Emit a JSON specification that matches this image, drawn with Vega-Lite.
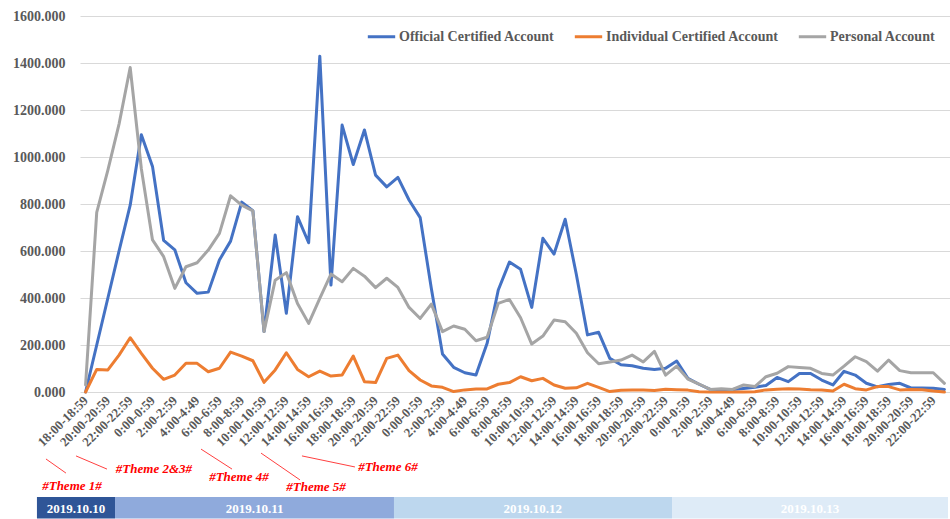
{
  "$schema": "https://vega.github.io/schema/vega-lite/v6.json",
  "width": 870,
  "height": 376,
  "padding": {"left": 12, "top": 9, "right": 0, "bottom": 0},
  "background": "white",
  "config": {"view": {"stroke": null}, "font": "Liberation Serif"},
  "datasets": {
    "series": [
      {"t": "10.10 18:00-18:59", "Official Certified Account": 0, "Individual Certified Account": 0, "Personal Account": 30},
      {"t": "10.10 19:00-19:59", "Official Certified Account": 200, "Individual Certified Account": 96, "Personal Account": 764},
      {"t": "10.10 20:00-20:59", "Official Certified Account": 400, "Individual Certified Account": 94, "Personal Account": 944},
      {"t": "10.10 21:00-21:59", "Official Certified Account": 600, "Individual Certified Account": 157, "Personal Account": 1140},
      {"t": "10.10 22:00-22:59", "Official Certified Account": 795, "Individual Certified Account": 231, "Personal Account": 1381},
      {"t": "10.10 23:00-23:59", "Official Certified Account": 1095, "Individual Certified Account": 164, "Personal Account": 950},
      {"t": "10.11 0:00-0:59", "Official Certified Account": 960, "Individual Certified Account": 101, "Personal Account": 647},
      {"t": "10.11 1:00-1:59", "Official Certified Account": 645, "Individual Certified Account": 54, "Personal Account": 576},
      {"t": "10.11 2:00-2:59", "Official Certified Account": 605, "Individual Certified Account": 72, "Personal Account": 441},
      {"t": "10.11 3:00-3:59", "Official Certified Account": 465, "Individual Certified Account": 122, "Personal Account": 533},
      {"t": "10.11 4:00-4:49", "Official Certified Account": 420, "Individual Certified Account": 122, "Personal Account": 550},
      {"t": "10.11 5:00-5:59", "Official Certified Account": 425, "Individual Certified Account": 86, "Personal Account": 604},
      {"t": "10.11 6:00-6:59", "Official Certified Account": 562, "Individual Certified Account": 101, "Personal Account": 675},
      {"t": "10.11 7:00-7:59", "Official Certified Account": 642, "Individual Certified Account": 170, "Personal Account": 835},
      {"t": "10.11 8:00-8:59", "Official Certified Account": 808, "Individual Certified Account": 153, "Personal Account": 795},
      {"t": "10.11 9:00-9:59", "Official Certified Account": 772, "Individual Certified Account": 133, "Personal Account": 771},
      {"t": "10.11 10:00-10:59", "Official Certified Account": 257, "Individual Certified Account": 41, "Personal Account": 257},
      {"t": "10.11 11:00-11:59", "Official Certified Account": 668, "Individual Certified Account": 94, "Personal Account": 476},
      {"t": "10.11 12:00-12:59", "Official Certified Account": 335, "Individual Certified Account": 167, "Personal Account": 508},
      {"t": "10.11 13:00-13:59", "Official Certified Account": 746, "Individual Certified Account": 96, "Personal Account": 377},
      {"t": "10.11 14:00-14:59", "Official Certified Account": 635, "Individual Certified Account": 65, "Personal Account": 292},
      {"t": "10.11 15:00-15:59", "Official Certified Account": 1429, "Individual Certified Account": 89, "Personal Account": 398},
      {"t": "10.11 16:00-16:59", "Official Certified Account": 455, "Individual Certified Account": 68, "Personal Account": 502},
      {"t": "10.11 17:00-17:59", "Official Certified Account": 1136, "Individual Certified Account": 72, "Personal Account": 469},
      {"t": "10.11 18:00-18:59", "Official Certified Account": 968, "Individual Certified Account": 153, "Personal Account": 526},
      {"t": "10.11 19:00-19:59", "Official Certified Account": 1115, "Individual Certified Account": 44, "Personal Account": 493},
      {"t": "10.11 20:00-20:59", "Official Certified Account": 923, "Individual Certified Account": 40, "Personal Account": 444},
      {"t": "10.11 21:00-21:59", "Official Certified Account": 873, "Individual Certified Account": 143, "Personal Account": 484},
      {"t": "10.11 22:00-22:59", "Official Certified Account": 913, "Individual Certified Account": 157, "Personal Account": 445},
      {"t": "10.11 23:00-23:59", "Official Certified Account": 817, "Individual Certified Account": 91, "Personal Account": 360},
      {"t": "10.12 0:00-0:59", "Official Certified Account": 742, "Individual Certified Account": 51, "Personal Account": 313},
      {"t": "10.12 1:00-1:59", "Official Certified Account": 440, "Individual Certified Account": 26, "Personal Account": 374},
      {"t": "10.12 2:00-2:59", "Official Certified Account": 162, "Individual Certified Account": 20, "Personal Account": 257},
      {"t": "10.12 3:00-3:59", "Official Certified Account": 105, "Individual Certified Account": 2, "Personal Account": 281},
      {"t": "10.12 4:00-4:49", "Official Certified Account": 82, "Individual Certified Account": 9, "Personal Account": 267},
      {"t": "10.12 5:00-5:59", "Official Certified Account": 72, "Individual Certified Account": 13, "Personal Account": 218},
      {"t": "10.12 6:00-6:59", "Official Certified Account": 207, "Individual Certified Account": 13, "Personal Account": 233},
      {"t": "10.12 7:00-7:59", "Official Certified Account": 434, "Individual Certified Account": 33, "Personal Account": 377},
      {"t": "10.12 8:00-8:59", "Official Certified Account": 553, "Individual Certified Account": 40, "Personal Account": 394},
      {"t": "10.12 9:00-9:59", "Official Certified Account": 522, "Individual Certified Account": 65, "Personal Account": 316},
      {"t": "10.12 10:00-10:59", "Official Certified Account": 360, "Individual Certified Account": 48, "Personal Account": 204},
      {"t": "10.12 11:00-11:59", "Official Certified Account": 654, "Individual Certified Account": 58, "Personal Account": 238},
      {"t": "10.12 12:00-12:59", "Official Certified Account": 587, "Individual Certified Account": 30, "Personal Account": 306},
      {"t": "10.12 13:00-13:59", "Official Certified Account": 735, "Individual Certified Account": 16, "Personal Account": 299},
      {"t": "10.12 14:00-14:59", "Official Certified Account": 500, "Individual Certified Account": 18, "Personal Account": 250},
      {"t": "10.12 15:00-15:59", "Official Certified Account": 243, "Individual Certified Account": 37, "Personal Account": 167},
      {"t": "10.12 16:00-16:59", "Official Certified Account": 254, "Individual Certified Account": 20, "Personal Account": 120},
      {"t": "10.12 17:00-17:59", "Official Certified Account": 143, "Individual Certified Account": 2, "Personal Account": 128},
      {"t": "10.12 18:00-18:59", "Official Certified Account": 116, "Individual Certified Account": 7, "Personal Account": 136},
      {"t": "10.12 19:00-19:59", "Official Certified Account": 112, "Individual Certified Account": 8, "Personal Account": 157},
      {"t": "10.12 20:00-20:59", "Official Certified Account": 101, "Individual Certified Account": 8, "Personal Account": 128},
      {"t": "10.12 21:00-21:59", "Official Certified Account": 96, "Individual Certified Account": 6, "Personal Account": 173},
      {"t": "10.12 22:00-22:59", "Official Certified Account": 101, "Individual Certified Account": 12, "Personal Account": 72},
      {"t": "10.12 23:00-23:59", "Official Certified Account": 132, "Individual Certified Account": 10, "Personal Account": 110},
      {"t": "10.13 0:00-0:59", "Official Certified Account": 58, "Individual Certified Account": 8, "Personal Account": 55},
      {"t": "10.13 1:00-1:59", "Official Certified Account": 33, "Individual Certified Account": 1, "Personal Account": 34},
      {"t": "10.13 2:00-2:59", "Official Certified Account": 11, "Individual Certified Account": 0, "Personal Account": 11},
      {"t": "10.13 3:00-3:59", "Official Certified Account": 9, "Individual Certified Account": 0, "Personal Account": 14},
      {"t": "10.13 4:00-4:49", "Official Certified Account": 11, "Individual Certified Account": 0, "Personal Account": 11},
      {"t": "10.13 5:00-5:59", "Official Certified Account": 15, "Individual Certified Account": 0, "Personal Account": 30},
      {"t": "10.13 6:00-6:59", "Official Certified Account": 20, "Individual Certified Account": 1, "Personal Account": 23},
      {"t": "10.13 7:00-7:59", "Official Certified Account": 28, "Individual Certified Account": 9, "Personal Account": 65},
      {"t": "10.13 8:00-8:59", "Official Certified Account": 62, "Individual Certified Account": 12, "Personal Account": 80},
      {"t": "10.13 9:00-9:59", "Official Certified Account": 44, "Individual Certified Account": 14, "Personal Account": 108},
      {"t": "10.13 10:00-10:59", "Official Certified Account": 79, "Individual Certified Account": 13, "Personal Account": 104},
      {"t": "10.13 11:00-11:59", "Official Certified Account": 79, "Individual Certified Account": 10, "Personal Account": 101},
      {"t": "10.13 12:00-12:59", "Official Certified Account": 51, "Individual Certified Account": 9, "Personal Account": 79},
      {"t": "10.13 13:00-13:59", "Official Certified Account": 30, "Individual Certified Account": 4, "Personal Account": 72},
      {"t": "10.13 14:00-14:59", "Official Certified Account": 88, "Individual Certified Account": 33, "Personal Account": 110},
      {"t": "10.13 15:00-15:59", "Official Certified Account": 72, "Individual Certified Account": 14, "Personal Account": 150},
      {"t": "10.13 16:00-16:59", "Official Certified Account": 37, "Individual Certified Account": 9, "Personal Account": 129},
      {"t": "10.13 17:00-17:59", "Official Certified Account": 22, "Individual Certified Account": 23, "Personal Account": 89},
      {"t": "10.13 18:00-18:59", "Official Certified Account": 32, "Individual Certified Account": 23, "Personal Account": 136},
      {"t": "10.13 19:00-19:59", "Official Certified Account": 37, "Individual Certified Account": 9, "Personal Account": 91},
      {"t": "10.13 20:00-20:59", "Official Certified Account": 17, "Individual Certified Account": 11, "Personal Account": 82},
      {"t": "10.13 21:00-21:59", "Official Certified Account": 17, "Individual Certified Account": 10, "Personal Account": 82},
      {"t": "10.13 22:00-22:59", "Official Certified Account": 16, "Individual Certified Account": 4, "Personal Account": 82},
      {"t": "10.13 23:00-23:59", "Official Certified Account": 11, "Individual Certified Account": 0, "Personal Account": 37}
    ],
    "notes": [
      {"note": "#Theme 1#", "ax": -1.22, "ay": -400},
      {"note": "#Theme 2&3#", "ax": 6.13, "ay": -328},
      {"note": "#Theme 4#", "ax": 13.75, "ay": -362},
      {"note": "#Theme 5#", "ax": 20.66, "ay": -404},
      {"note": "#Theme 6#", "ax": 27.11, "ay": -319}
    ],
    "pointers": [
      {"ax": -3.55, "ay": -285, "ax2": -1.76, "ay2": -345},
      {"ax": -0.86, "ay": -272, "ax2": 1.92, "ay2": -328},
      {"ax": 10.35, "ay": -243, "ax2": 13.13, "ay2": -328},
      {"ax": 15.73, "ay": -260, "ax2": 19.22, "ay2": -374},
      {"ax": 19.4, "ay": -272, "ax2": 24.15, "ay2": -319}
    ],
    "days": [
      {"day": "2019.10.10", "ax": -4.36, "ax2": 2.64, "am": -0.86, "ay": -447, "ay2": -538, "ym": -498},
      {"day": "2019.10.11", "ax": 2.64, "ax2": 27.65, "am": 15.15, "ay": -447, "ay2": -538, "ym": -498},
      {"day": "2019.10.12", "ax": 27.65, "ax2": 52.58, "am": 40.1, "ay": -447, "ay2": -538, "ym": -498},
      {"day": "2019.10.13", "ax": 52.58, "ax2": 77.32, "am": 64.95, "ay": -447, "ay2": -538, "ym": -498}
    ]
  },
  "layer": [
    {
      "data": {"name": "series"},
      "transform": [{"fold": ["Official Certified Account", "Individual Certified Account", "Personal Account"], "as": ["series", "value"]}],
      "mark": {"type": "line", "strokeWidth": 3, "strokeJoin": "round", "strokeCap": "round"},
      "encoding": {
        "x": {
          "field": "t", "type": "ordinal", "sort": null,
          "scale": {"type": "point", "padding": 0.5},
          "axis": {
            "title": null, "ticks": false, "domain": false, "grid": false,
            "labelAngle": -45, "labelAlign": "right", "labelBaseline": "middle",
            "labelPadding": 6, "labelOverlap": false,
            "labelFont": "Liberation Serif", "labelFontSize": 13, "labelFontWeight": "bold", "labelColor": "#595959",
            "labelExpr": "(toNumber(split(split(datum.value, ' ')[1], ':')[0]) % 2 == 0) ? split(datum.value, ' ')[1] : ''"
          }
        },
        "y": {
          "field": "value", "type": "quantitative",
          "scale": {"domain": [0, 1600], "nice": false},
          "axis": {
            "title": null, "values": [0, 200, 400, 600, 800, 1000, 1200, 1400, 1600], "format": ".3f",
            "ticks": false, "domain": false, "grid": true, "gridColor": "#D9D9D9", "gridWidth": 1,
            "labelPadding": 15, "labelFont": "Liberation Serif", "labelFontSize": 14, "labelFontWeight": "bold", "labelColor": "#595959"
          }
        },
        "color": {
          "field": "series", "type": "nominal",
          "scale": {"domain": ["Official Certified Account", "Individual Certified Account", "Personal Account"], "range": ["#4472C4", "#ED7D31", "#A5A5A5"]},
          "legend": {
            "title": null, "orient": "none", "direction": "horizontal", "legendX": 286, "legendY": 5,
            "symbolType": "stroke", "symbolStrokeWidth": 3, "symbolSize": 750, "columnPadding": 13, "labelOffset": 2, "labelLimit": 0,
            "labelFont": "Liberation Serif", "labelFontSize": 14, "labelFontWeight": "bold", "labelColor": "#595959"
          }
        }
      }
    },
    {
      "data": {"name": "pointers"},
      "mark": {"type": "rule", "color": "#FF4040", "strokeWidth": 1},
      "encoding": {
        "x": {"field": "ax", "type": "quantitative", "scale": {"domain": [-0.5, 77.5], "nice": false, "zero": false}, "axis": null},
        "x2": {"field": "ax2"},
        "y": {"field": "ay", "type": "quantitative", "scale": {"domain": [0, 1600], "nice": false, "zero": false}, "axis": null},
        "y2": {"field": "ay2"}
      }
    },
    {
      "data": {"name": "notes"},
      "mark": {"type": "text", "color": "#FF0000", "font": "Liberation Serif", "fontSize": 13, "fontWeight": "bold", "fontStyle": "italic", "align": "center", "baseline": "middle"},
      "encoding": {
        "x": {"field": "ax", "type": "quantitative", "scale": {"domain": [-0.5, 77.5], "nice": false, "zero": false}, "axis": null},
        "y": {"field": "ay", "type": "quantitative", "scale": {"domain": [0, 1600], "nice": false, "zero": false}, "axis": null},
        "text": {"field": "note"}
      }
    },
    {
      "data": {"name": "days"},
      "mark": {"type": "rect"},
      "encoding": {
        "x": {"field": "ax", "type": "quantitative", "scale": {"domain": [-0.5, 77.5], "nice": false, "zero": false}, "axis": null},
        "x2": {"field": "ax2"},
        "y": {"field": "ay", "type": "quantitative", "scale": {"domain": [0, 1600], "nice": false, "zero": false}, "axis": null},
        "y2": {"field": "ay2"},
        "fill": {"field": "day", "type": "nominal", "scale": {"domain": ["2019.10.10", "2019.10.11", "2019.10.12", "2019.10.13"], "range": ["#2F5597", "#8FAADC", "#BDD7EE", "#DEEBF7"]}, "legend": null}
      }
    },
    {
      "data": {"name": "days"},
      "mark": {"type": "text", "color": "white", "font": "Liberation Serif", "fontSize": 13, "fontWeight": "bold", "align": "center", "baseline": "middle"},
      "encoding": {
        "x": {"field": "am", "type": "quantitative", "scale": {"domain": [-0.5, 77.5], "nice": false, "zero": false}, "axis": null},
        "y": {"field": "ym", "type": "quantitative", "scale": {"domain": [0, 1600], "nice": false, "zero": false}, "axis": null},
        "text": {"field": "day"}
      }
    }
  ],
  "resolve": {"scale": {"x": "independent", "y": "independent", "color": "independent"}}
}
